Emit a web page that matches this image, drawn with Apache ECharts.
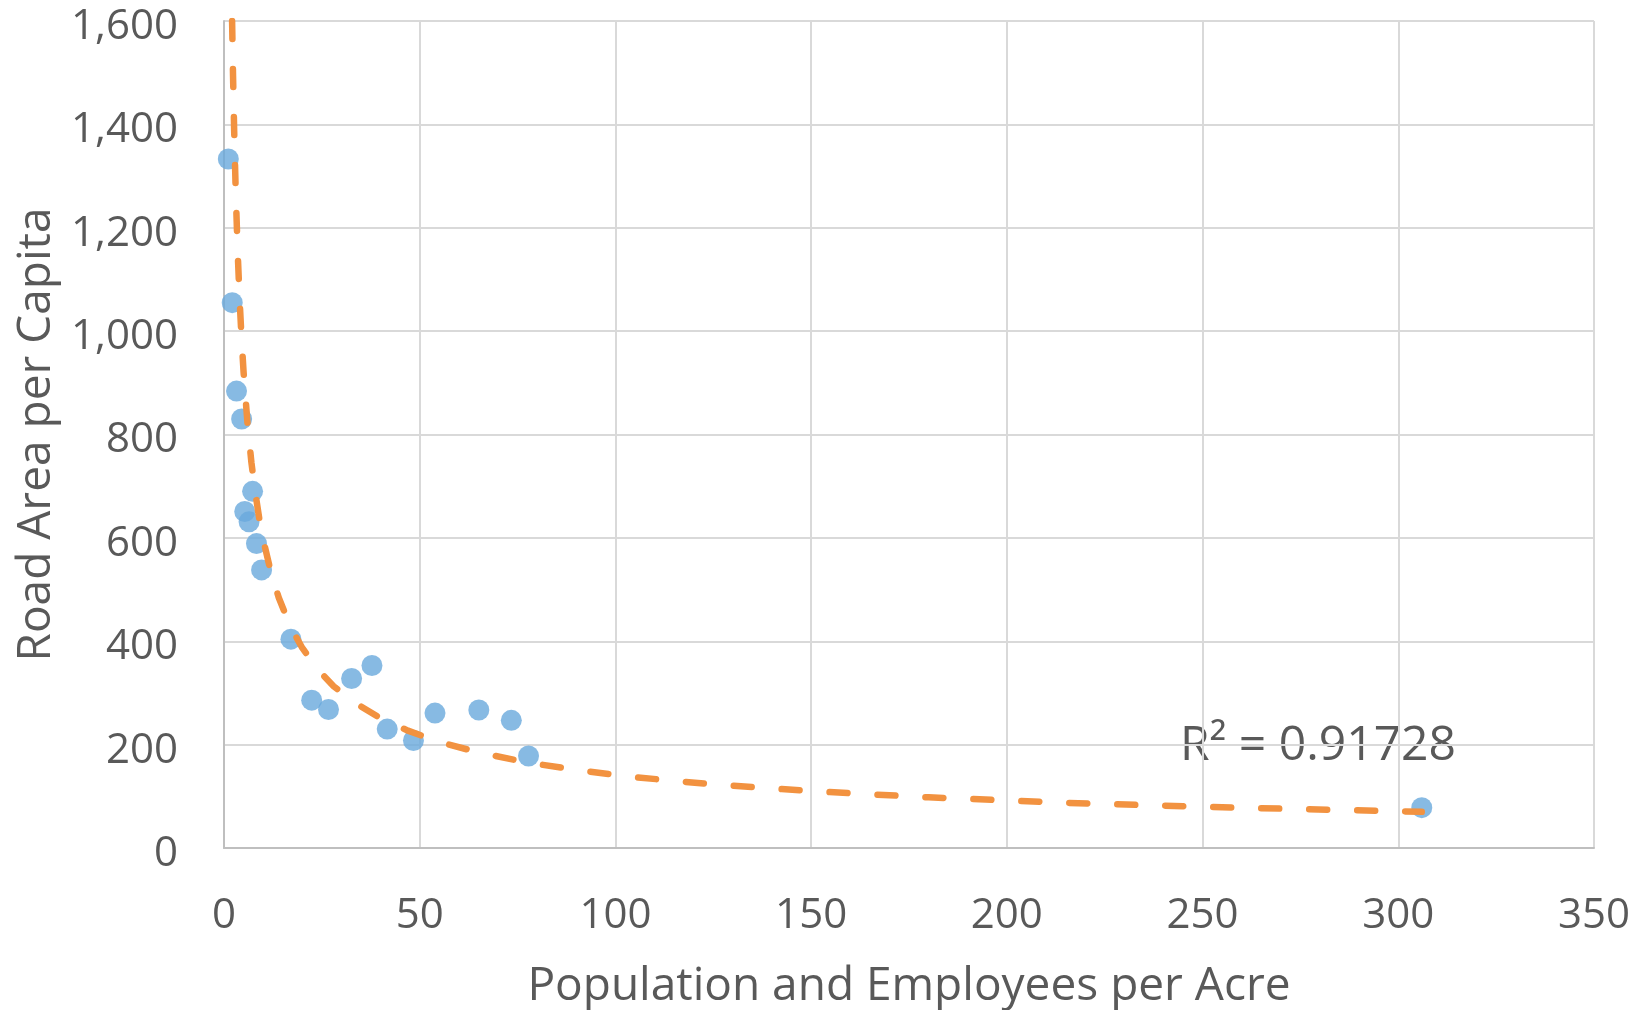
<!DOCTYPE html>
<html>
<head>
<meta charset="utf-8">
<title>Road Area per Capita vs Density</title>
<script src="https://cdn.jsdelivr.net/npm/echarts@6/dist/echarts.min.js"></script>
<style>
  html, body { margin: 0; padding: 0; background: #ffffff; }
  #chart { width: 1648px; height: 1010px; }
</style>
</head>
<body>
<div id="chart"></div>
<script>
// Observed places: density (population + employees per acre) and road area per capita
const densityX = [1.1, 2.1, 3.2, 4.5, 7.3, 5.3, 6.4, 8.3, 9.6, 17.1, 22.4, 26.7, 32.6, 37.8, 41.7, 48.4, 53.9, 65.1, 73.4, 77.8, 306];
const roadArea = [1333, 1055, 884, 830, 690, 651, 631, 589, 538, 404, 286, 268, 328, 353, 230, 208, 261, 267, 247, 178, 78];

// Power trendline, sampled along the curve
const trendX = [2.07, 2.3, 2.6, 3, 3.5, 4, 4.5, 5, 6, 7, 8, 9, 10, 12, 14, 17, 20, 24, 28, 33, 40, 47, 55, 65, 77, 90, 105, 125, 150, 180, 215, 255, 306];
const trendY = [1600, 1498, 1387, 1268, 1152, 1059, 984, 921, 822, 746, 687, 638, 597, 533, 484, 428, 387, 345, 313, 283, 251, 227, 205, 185, 166, 151, 137, 123, 110, 98, 87.5, 78.7, 70];

const rSquaredText = 'R\u00B2 = 0.91728';

const xTicks = [0, 50, 100, 150, 200, 250, 300, 350];
const yTicks = [0, 200, 400, 600, 800, 1000, 1200, 1400, 1600];

const FONT = '"Open Sans", "Noto Sans", sans-serif';
const TEXT = '#595959';

const chart = echarts.init(document.getElementById('chart'), null, { renderer: 'canvas' });

chart.setOption({
  backgroundColor: '#ffffff',
  animation: false,
  grid: { left: 224, right: 54, top: 21, bottom: 162, containLabel: false, outerBoundsMode: 'none' },
  xAxis: {
    type: 'value',
    min: xTicks[0],
    max: xTicks[xTicks.length - 1],
    interval: 50,
    name: 'Population and Employees per Acre',
    nameLocation: 'middle',
    nameGap: 116,
    nameTextStyle: { fontFamily: FONT, fontSize: 46, color: TEXT },
    axisLine: { show: true, lineStyle: { color: '#BFBFBF', width: 2 } },
    axisTick: { show: false },
    axisLabel: { fontFamily: FONT, fontSize: 42, color: TEXT, margin: 47 },
    splitLine: { show: true, lineStyle: { color: '#D9D9D9', width: 2 } }
  },
  yAxis: {
    type: 'value',
    min: yTicks[0],
    max: yTicks[yTicks.length - 1],
    interval: 200,
    name: 'Road Area per Capita',
    nameLocation: 'middle',
    nameGap: 163,
    nameTextStyle: { fontFamily: FONT, fontSize: 46, color: TEXT },
    axisLine: { show: true, lineStyle: { color: '#BFBFBF', width: 2 } },
    axisTick: { show: false },
    axisLabel: {
      fontFamily: FONT, fontSize: 42, color: TEXT, margin: 46,
      verticalAlign: 'top', lineHeight: 12,
      formatter: v => v.toLocaleString('en-US')
    },
    splitLine: { show: true, lineStyle: { color: '#D9D9D9', width: 2 } }
  },
  series: [
    {
      name: 'Places',
      type: 'scatter',
      symbol: 'circle',
      symbolSize: 21,
      itemStyle: { color: '#69A9DC' },
      data: densityX.map((x, i) => [x, roadArea[i]]),
      z: 2
    },
    {
      name: 'Power trend',
      type: 'line',
      showSymbol: false,
      smooth: false,
      clip: true,
      lineStyle: { color: '#F29240', width: 6.5, type: [18, 30], cap: 'round', join: 'round' },
      data: trendX.map((x, i) => [x, trendY[i]]),
      z: 3
    }
  ],
  graphic: [
    {
      type: 'text',
      left: 1180,
      top: 722,
      style: { text: rSquaredText, fontFamily: FONT, fontSize: 48, fill: TEXT }
    }
  ]
});
</script>
</body>
</html>
